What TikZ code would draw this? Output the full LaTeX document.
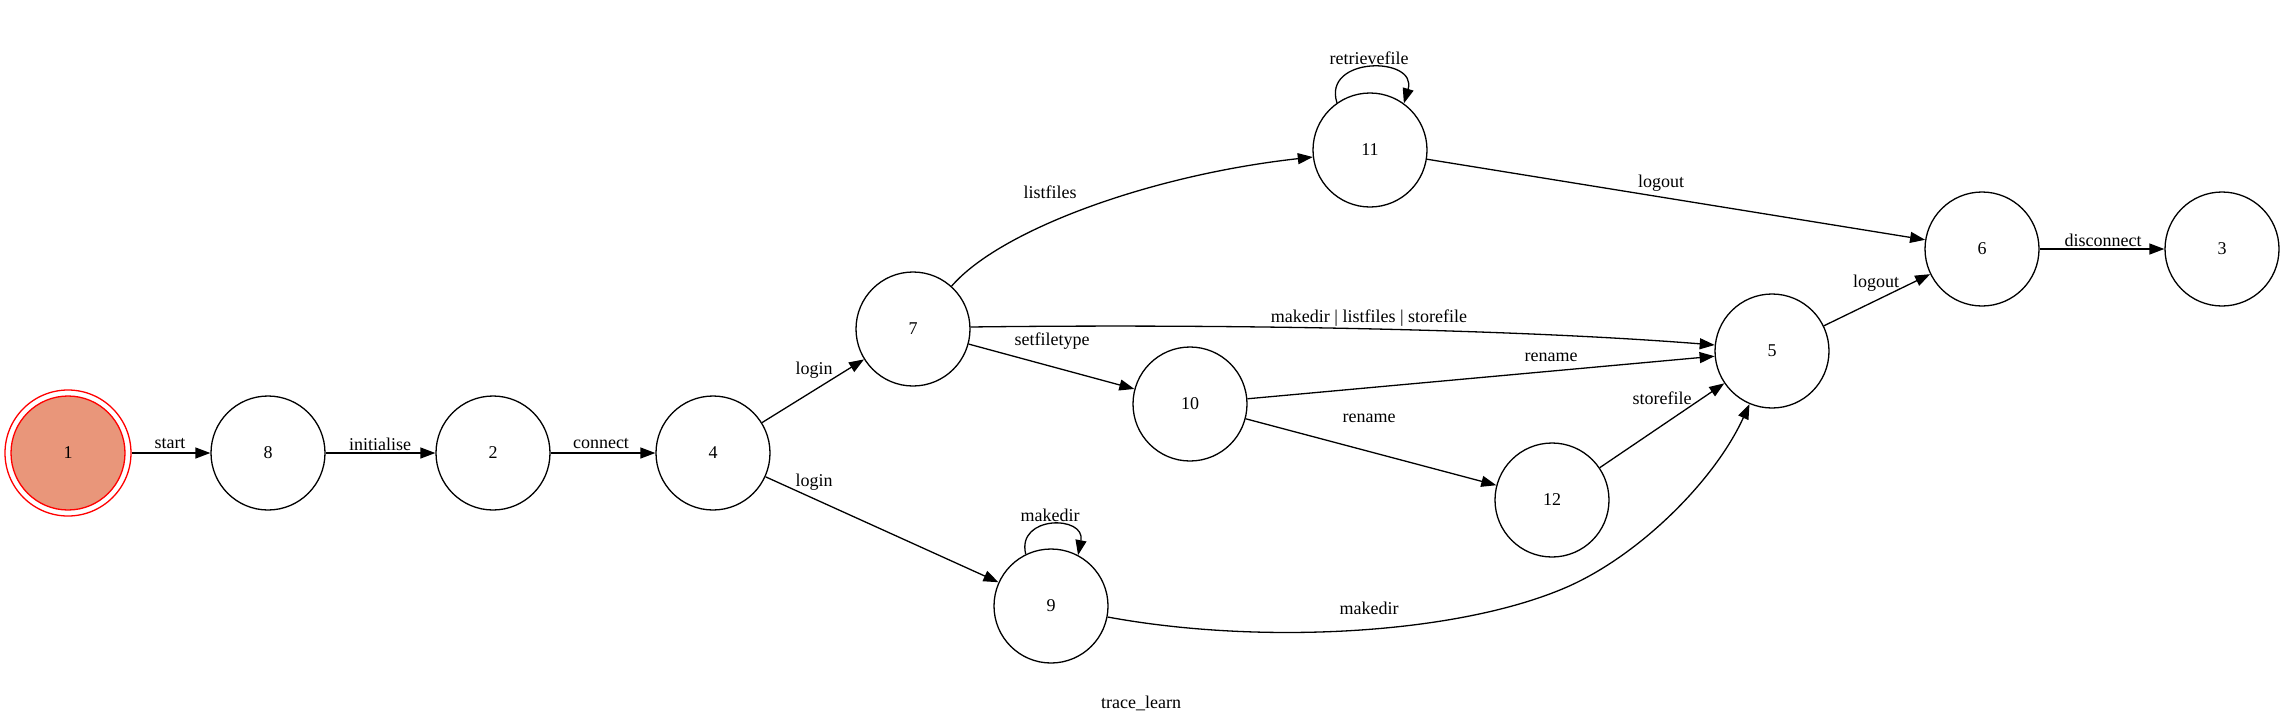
\documentclass[tikz,border=0pt]{standalone}
\usepackage{fontspec}
\setmainfont{Liberation Serif}
\usetikzlibrary{arrows.meta}
\definecolor{startfill}{HTML}{E9967A}
\begin{document}
\begin{tikzpicture}[x=1pt,y=-1pt,
  every node/.style={font=\fontsize{18}{21}\selectfont},
  st/.style={circle, draw, line width=1.3pt, minimum size=114pt, inner sep=0pt},
  arr/.style={line width=1.3pt, -{Triangle[length=15pt,width=11pt]}},
  lbl/.style={inner sep=0pt}]
\useasboundingbox (0,0) rectangle (2285,724);
% nodes
\node[circle, draw=red, line width=1.3pt, minimum size=126pt, inner sep=0pt] (n1o) at (68,453) {};
\node[st, fill=startfill, draw=red] (n1) at (68,453) {1};
\node[st] (n8) at (268,453) {8};
\node[st] (n2) at (493,453) {2};
\node[st] (n4) at (713,453) {4};
\node[st] (n7) at (913,329) {7};
\node[st] (n9) at (1051,606) {9};
\node[st] (n10) at (1190,404) {10};
\node[st] (n11) at (1370,150) {11};
\node[st] (n12) at (1552,500) {12};
\node[st] (n5) at (1772,351) {5};
\node[st] (n6) at (1982,249) {6};
\node[st] (n3) at (2222,249) {3};
% edges
\draw[arr] (n1o) -- (n8);
\draw[arr] (n8) -- (n2);
\draw[arr] (n2) -- (n4);
\draw[arr] (n4) -- (n7);
\draw[arr] (n4) -- (n9);
\draw[arr] (n7.48) .. controls (1000,230) and (1150,175) .. (n11.187);
\draw[arr] (n7.2) .. controls (1200,324) and (1500,328) .. (n5.174);
\draw[arr] (n7) -- (n10);
\draw[arr] (n10) -- (n5);
\draw[arr] (n10) -- (n12);
\draw[arr] (n12) -- (n5);
\draw[arr] (n9.-11) .. controls (1259,645) and (1457,635) .. (1567,587)
   .. controls (1640,555) and (1715,480) .. (n5.247);
\draw[arr] (n11) -- (n6);
\draw[arr] (n5) -- (n6);
\draw[arr] (n6) -- (n3);
\draw[arr] (n11.125) .. controls (1322,56) and (1418,56) .. (n11.54);
\draw[arr] (n9.116) .. controls (1016,515) and (1086,515) .. (n9.62);
% labels
\node[lbl] (l1) at (170,444) {start};
\node[lbl] (l2) at (380,444) {initialise};
\node[lbl] (l3) at (601,444) {connect};
\node[lbl] (l4) at (814,370) {login};
\node[lbl] (l5) at (814,482) {login};
\node[lbl] (l6) at (1050,192) {listfiles};
\node[lbl] (l7) at (1369,318) {makedir | listfiles | storefile};
\node[lbl] (l8) at (1052,341) {setfiletype};
\node[lbl] (l9) at (1551,357) {rename};
\node[lbl] (l10) at (1369,418) {rename};
\node[lbl] (l11) at (1662,398) {storefile};
\node[lbl] (l12) at (1369,608) {makedir};
\node[lbl] (l13) at (1661,183) {logout};
\node[lbl] (l14) at (1876,283) {logout};
\node[lbl] (l15) at (2103,240) {disconnect};
\node[lbl] (l16) at (1369,58) {retrievefile};
\node[lbl] (l17) at (1050,515) {makedir};
\node[lbl] (title) at (1141,703) {trace\_learn};
\end{tikzpicture}
\end{document}
